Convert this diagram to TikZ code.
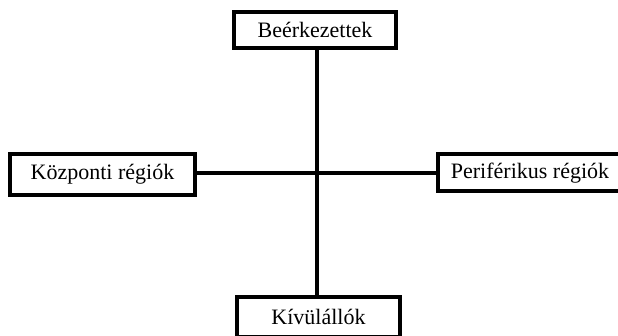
\documentclass[tikz,border=0pt]{standalone}
\usepackage{fontspec}
\setmainfont{Liberation Serif}
\begin{document}
\begin{tikzpicture}[x=1pt,y=1pt,
  boxnode/.style={draw=black,line width=4pt,fill=white,inner sep=0pt,
    font=\fontsize{22}{26}\selectfont,text=black},
  conn/.style={line width=4pt,draw=black}]
\useasboundingbox (0,0) rectangle (618,336);
\coordinate (c) at (317,163);
\node[boxnode,minimum width=162pt,minimum height=36pt] (top) at (315,306) {Beérkezettek};
\node[boxnode,minimum width=185pt,minimum height=41pt] (left) at (102.5,161.5) {Központi régiók};
\node[boxnode,minimum width=190pt,minimum height=37pt] (right) at (533,163) {\hspace*{-6pt}Periférikus régiók};
\node[boxnode,minimum width=163pt,minimum height=40pt] (bottom) at (318.5,19) {Kívülállók};
\draw[conn] (c |- top.south) -- (c |- bottom.north);
\draw[conn] (left.east |- c) -- (right.west |- c);
\end{tikzpicture}
\end{document}
